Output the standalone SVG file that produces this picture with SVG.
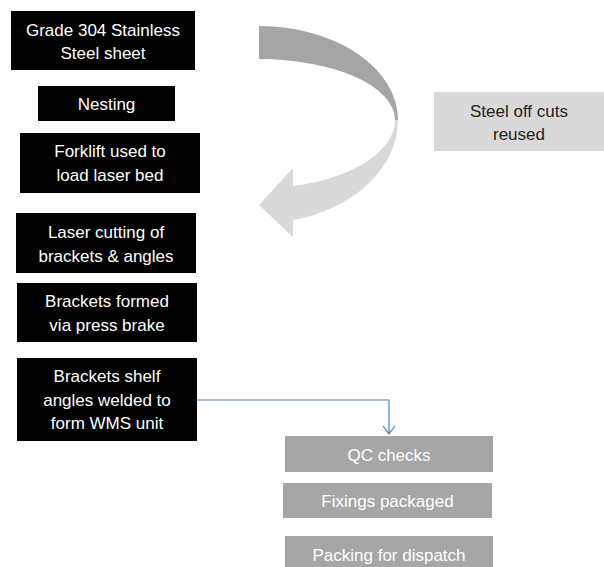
<svg xmlns="http://www.w3.org/2000/svg" width="604" height="567" viewBox="0 0 604 567">
<style>
.blk{fill:#000}
.gry{fill:#a6a6a6}
.lgt{fill:#d9d9d9}
text{font-family:"Liberation Sans",Arial,sans-serif;font-size:17px;text-anchor:middle}
.w{fill:#fff}
.d{fill:#222}
.c{fill:none;stroke:#4a7ebb;stroke-width:1.2}
</style>
<rect width="604" height="567" fill="#fff"/>
<g id="curved-arrow">
<path d="M259,26 A139,94 0 0 1 398,120 L395,120 A136,61 0 0 0 259,59 Z" fill="#a5a5a5"/>
<path d="M398,120 A139,103 0 0 1 293,220 L293,237 L259,205 L293,168 L293,186 A136,68.2 0 0 0 395,120 Z" fill="#d9d9d9"/>
</g>
<g id="n1"><rect class="blk" x="11" y="11" width="184" height="59"/><text class="w" x="103" y="36">Grade 304 Stainless</text><text class="w" x="103" y="59">Steel sheet</text></g>
<g id="n2"><rect class="blk" x="38" y="86" width="137" height="35"/><text class="w" x="106.5" y="110">Nesting</text></g>
<g id="n3"><rect class="blk" x="20" y="133" width="180" height="60"/><text class="w" x="110" y="157">Forklift used to</text><text class="w" x="110" y="181">load laser bed</text></g>
<g id="n4"><rect class="blk" x="16" y="213" width="180" height="60"/><text class="w" x="106" y="238">Laser cutting of</text><text class="w" x="106" y="262">brackets &amp; angles</text></g>
<g id="n5"><rect class="blk" x="17" y="283" width="180" height="59"/><text class="w" x="107" y="307">Brackets formed</text><text class="w" x="107" y="331">via press brake</text></g>
<g id="n6"><rect class="blk" x="17" y="358" width="180" height="83"/><text class="w" x="107" y="382">Brackets shelf</text><text class="w" x="107" y="406">angles welded to</text><text class="w" x="107" y="429">form WMS unit</text></g>
<g id="n7"><rect class="lgt" x="434" y="92" width="170" height="59"/><text class="d" x="519" y="117">Steel off cuts</text><text class="d" x="519" y="140">reused</text></g>
<g id="n8"><rect class="gry" x="285" y="436" width="208" height="36"/><text class="w" x="389" y="461">QC checks</text></g>
<g id="n9"><rect class="gry" x="283" y="483" width="209" height="35"/><text class="w" x="387.5" y="507">Fixings packaged</text></g>
<g id="n10"><rect class="gry" x="285" y="536" width="208" height="36"/><text class="w" x="389" y="561">Packing for dispatch</text></g>
<g id="connectors">
<path class="c" d="M197,400 H389 V434"/>
<path class="c" d="M383,426 L389,434 L395,426"/>
</g>
</svg>
